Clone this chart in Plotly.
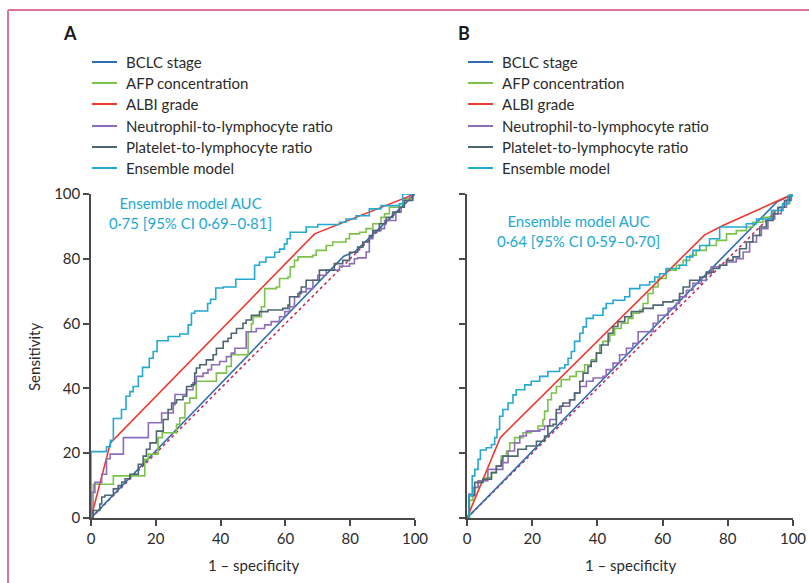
import plotly.graph_objects as go

W, H = 809, 583

NAMES = ["BCLC stage", "AFP concentration", "ALBI grade",
         "Neutrophil-to-lymphocyte ratio", "Platelet-to-lymphocyte ratio", "Ensemble model"]
COLORS = ["#2f6db3", "#7cc24a", "#ec3a2e", "#8d6cba", "#4e6672", "#23a9d2"]
DIAG_COLOR = "#c3245d"
AXIS_COLOR = "#4a4a4a"
TEXT_COLOR = "#2b2b2b"
FONT = "Lato"

TICKS = [0, 20, 40, 60, 80, 100]
X_TITLE = "1 – specificity"
Y_TITLE = "Sensitivity"
AUC_A = ["Ensemble model AUC", "0·75 [95% CI 0·69–0·81]"]
AUC_B = ["Ensemble model AUC", "0·64 [95% CI 0·59–0·70]"]

# ---------------- Panel A ----------------
A_bclc_x = [0, 78, 81.5, 100]
A_bclc_y = [0, 80.8, 82.2, 100]

A_albi_x = [0, 6, 69, 100]
A_albi_y = [0, 23.2, 87.7, 100]

A_afp_x = [0, 0.7, 6.9, 16.6, 17.7, 20.7, 22.0, 26.4, 27.4, 29.0, 30.5, 32.5, 38.7, 41.8, 43.3,
           48.5, 49.5, 50.0, 52.6, 53.6, 57.2, 58.2, 60.8, 61.5, 62.8, 63.9, 68.5, 69.5, 72.6,
           74.6, 78.7, 79.8, 82.9, 84.9, 87.0, 89.5, 90.6, 92.1, 95.2, 96.7, 99.3, 100]
A_afp_y = [0, 10.4, 13.0, 18.1, 19.7, 24.8, 26.3, 28.9, 30.9, 35.5, 37.0, 42.2, 44.7, 46.8, 50.4,
           57.5, 60.0, 62.1, 65.2, 70.8, 71.3, 73.9, 74.4, 77.5, 79.5, 80.6, 81.1, 82.6, 84.1,
           85.2, 86.2, 87.7, 88.2, 89.3, 90.8, 92.8, 93.9, 95.9, 96.9, 98.5, 100, 100]

A_nlr_x = [0, 0.2, 1.2, 3.3, 4.8, 5.9, 10.0, 17.7, 21.8, 25.4, 25.9, 29.5, 31.5, 32.5, 34.6, 36.1,
           37.2, 39.7, 41.8, 43.3, 44.4, 47.9, 51.0, 53.6, 55.6, 58.2, 59.8, 61.3, 62.8, 64.4,
           66.4, 68.5, 70.0, 72.6, 76.7, 79.8, 81.3, 82.3, 84.9, 85.9, 87.0, 89.5, 90.6, 94.1,
           95.7, 96.7, 98.3, 100]
A_nlr_y = [0, 7.9, 11.0, 13.5, 18.3, 19.7, 24.8, 29.4, 32.4, 35.0, 38.1, 39.6, 41.7, 43.7, 44.7,
           45.8, 47.3, 48.3, 49.8, 50.9, 52.4, 57.5, 58.5, 59.6, 60.6, 62.1, 63.7, 65.2, 68.3,
           69.8, 70.8, 73.4, 74.9, 76.5, 77.7, 78.5, 80.0, 80.3, 82.1, 86.2, 88.7, 89.3, 91.8,
           94.4, 95.9, 98.0, 100, 100]

A_plr_x = [0, 0.7, 2.7, 3.3, 4.3, 6.9, 8.4, 9.5, 10.5, 12.0, 14.6, 16.1, 17.1, 18.2, 20.2, 22.3,
           23.8, 24.9, 26.4, 28.4, 29.5, 31.0, 32.0, 32.5, 33.6, 35.6, 37.7, 38.7, 40.8, 42.3,
           43.3, 44.9, 46.9, 47.9, 49.5, 52.0, 54.6, 59.2, 60.8, 61.3, 63.9, 64.9, 66.4, 70.5,
           75.1, 77.7, 79.8, 82.3, 83.9, 85.9, 87.0, 89.0, 91.1, 93.1, 95.2, 96.7, 99.3, 100]
A_plr_y = [0, 2.3, 4.3, 6.5, 7.0, 9.0, 10.0, 11.1, 12.1, 13.5, 16.6, 19.1, 21.2, 23.2, 26.8, 30.4,
           33.5, 35.5, 36.5, 37.6, 40.6, 41.1, 44.7, 46.3, 47.3, 48.8, 50.4, 52.4, 54.5, 55.5,
           57.0, 58.5, 60.1, 61.1, 62.6, 63.7, 64.2, 64.7, 65.7, 68.3, 69.3, 71.3, 73.4, 76.5,
           78.5, 79.5, 82.0, 83.6, 85.2, 87.2, 88.7, 90.8, 92.8, 94.4, 95.9, 98.0, 100, 100]

A_ens_x = [0, 0, 4.8, 6.0, 6.9, 9.4, 10.8, 12.0, 13.0, 14.6, 15.9, 18.0, 19.2, 20.4, 23.8, 27.4,
           30.0, 31.0, 32.0, 36.0, 36.9, 38.5, 40.8, 44.7, 50.5, 52.0, 54.0, 56.7, 58.2, 59.7,
           60.5, 61.5, 66.4, 70.0, 76.7, 78.7, 81.8, 85.9, 89.5, 95.2, 96.2, 100]
A_ens_y = [0, 20.5, 22.0, 24.0, 30.7, 33.5, 37.6, 39.0, 40.6, 43.7, 46.5, 49.3, 51.4, 54.7, 56.0,
           56.8, 59.6, 63.2, 63.9, 66.2, 67.5, 71.0, 71.3, 73.7, 78.0, 79.0, 80.5, 82.0, 83.0,
           84.6, 86.2, 88.2, 89.8, 90.6, 91.3, 92.3, 93.3, 95.4, 96.4, 97.0, 100, 100]

# ---------------- Panel B ----------------
B_bclc_x = [0, 45, 95, 100]
B_bclc_y = [0, 46.3, 97.5, 100]

B_albi_x = [0, 10.2, 72.9, 78.5, 100]
B_albi_y = [0, 24.8, 87.4, 90.3, 100]

B_afp_x = [0, 0.8, 1.8, 3.4, 4.9, 5.9, 7.5, 9.0, 10.5, 12.1, 13.1, 14.6, 17.2, 19.7, 21.8, 23.3,
           23.8, 24.8, 25.9, 27.4, 28.9, 31.5, 33.5, 36.1, 38.1, 39.7, 40.7, 41.7, 43.8, 45.3,
           47.3, 49.4, 50.9, 53.0, 54.0, 55.5, 57.1, 58.6, 61.1, 64.2, 66.3, 68.3, 70.3, 73.4,
           76.5, 79.6, 82.6, 85.7, 87.7, 90.8, 93.9, 96.9, 99.0, 100]
B_afp_y = [0, 5.5, 9.4, 11.0, 11.5, 12.5, 14.0, 16.0, 19.1, 20.7, 23.2, 24.8, 26.3, 26.8, 28.4,
           30.4, 33.0, 36.5, 38.6, 40.6, 42.7, 43.7, 45.2, 47.3, 48.8, 50.9, 53.4, 54.5, 56.5,
           58.5, 60.1, 61.6, 63.2, 64.2, 66.2, 69.3, 71.3, 73.9, 76.5, 78.0, 79.5, 81.1, 82.6,
           84.1, 85.7, 87.7, 88.7, 89.8, 91.3, 92.8, 94.9, 97.0, 99.5, 100]

B_nlr_x = [0, 0.6, 1.8, 3.4, 6.4, 11.0, 12.6, 14.6, 16.2, 18.2, 22.3, 23.8, 25.4, 27.4, 28.9,
           31.5, 33.0, 34.6, 36.6, 38.7, 41.7, 42.7, 44.8, 46.8, 48.9, 50.9, 52.5, 57.1, 58.6,
           61.7, 64.2, 65.2, 67.3, 69.3, 71.9, 73.4, 74.9, 77.5, 79.6, 82.6, 84.7, 86.7, 88.8,
           90.3, 92.3, 94.4, 96.4, 98.0, 99.5, 100]
B_nlr_y = [0, 7.4, 9.4, 11.5, 15.0, 17.1, 20.7, 23.2, 25.3, 26.8, 27.3, 28.4, 30.4, 32.4, 34.5,
           36.5, 38.6, 40.6, 42.2, 43.2, 43.7, 45.8, 47.8, 50.4, 52.4, 53.9, 57.5, 60.1, 62.6,
           64.7, 66.2, 68.3, 70.3, 72.4, 73.4, 75.4, 77.5, 78.0, 79.0, 80.0, 82.1, 85.2, 87.2,
           89.3, 92.3, 93.9, 95.9, 98.0, 100, 100]

B_plr_x = [0, 0.6, 2.4, 4.9, 7.5, 9.0, 10.5, 11.0, 15.6, 18.2, 21.3, 23.8, 24.8, 26.4, 27.4,
           28.4, 29.4, 31.5, 33.0, 34.6, 35.6, 37.1, 38.1, 39.7, 41.2, 43.3, 44.8, 46.3, 48.4,
           50.4, 54.0, 57.1, 60.1, 63.2, 65.2, 66.3, 68.3, 71.4, 73.4, 75.5, 77.5, 79.6, 81.6,
           83.6, 85.7, 87.7, 89.8, 91.8, 93.9, 95.4, 97.4, 99.0, 100]
B_plr_y = [0, 6.9, 11.0, 12.0, 14.0, 16.0, 17.6, 19.1, 21.2, 22.2, 23.7, 25.3, 28.4, 28.9, 33.5,
           34.5, 35.5, 36.5, 38.6, 42.2, 44.7, 46.8, 48.3, 50.9, 53.4, 57.0, 59.1, 60.6, 62.1,
           63.7, 64.7, 65.7, 66.7, 67.2, 69.3, 71.3, 73.4, 74.4, 75.9, 77.0, 78.0, 79.5, 80.6,
           83.1, 85.2, 87.2, 89.8, 91.8, 93.9, 95.9, 98.0, 99.5, 100]

B_ens_x = [0, 0.6, 1.6, 2.4, 3.4, 4.1, 5.9, 7.5, 8.5, 9.2, 10.0, 11.0, 12.6, 14.1, 15.1, 17.7,
           19.7, 22.3, 24.8, 28.4, 30.0, 31.0, 32.0, 33.0, 34.6, 35.6, 36.6, 38.7, 41.7, 42.7,
           44.8, 48.4, 49.9, 53.0, 56.0, 57.6, 59.1, 61.1, 65.2, 67.3, 69.3, 71.4, 74.4, 77.5,
           85.7, 88.8, 93.4, 96.9, 98.5, 100]
B_ens_y = [0, 6.9, 13.0, 15.0, 18.1, 21.0, 21.7, 22.7, 24.8, 27.3, 31.4, 33.5, 35.5, 38.0, 39.6,
           41.1, 42.2, 43.7, 45.2, 46.3, 47.3, 49.3, 51.4, 54.5, 57.0, 59.0, 61.6, 62.6, 64.7,
           66.2, 67.2, 68.3, 70.8, 71.9, 72.9, 74.4, 75.4, 77.0, 78.0, 80.6, 82.6, 84.1, 86.2,
           89.8, 90.8, 92.3, 94.9, 97.0, 99.5, 100]

DIAG = [0, 100]

panels = {
    "A": dict(xa="x", ya="y", series=[
        (A_bclc_x, A_bclc_y, "linear"), (A_afp_x, A_afp_y, "hv"), (A_albi_x, A_albi_y, "linear"),
        (A_nlr_x, A_nlr_y, "hv"), (A_plr_x, A_plr_y, "hv"), (A_ens_x, A_ens_y, "hv")]),
    "B": dict(xa="x2", ya="y2", series=[
        (B_bclc_x, B_bclc_y, "linear"), (B_afp_x, B_afp_y, "hv"), (B_albi_x, B_albi_y, "linear"),
        (B_nlr_x, B_nlr_y, "hv"), (B_plr_x, B_plr_y, "hv"), (B_ens_x, B_ens_y, "hv")]),
}

fig = go.Figure()
for key, p in panels.items():
    fig.add_trace(go.Scatter(x=DIAG, y=DIAG, mode="lines", xaxis=p["xa"], yaxis=p["ya"],
                             line=dict(color=DIAG_COLOR, width=1.5, dash="3px,3px"),
                             showlegend=False, hoverinfo="skip"))
    for (xs, ys, shape), name, col in zip(p["series"], NAMES, COLORS):
        fig.add_trace(go.Scatter(x=xs, y=ys, mode="lines", name=name, xaxis=p["xa"], yaxis=p["ya"],
                                 line=dict(color=col, width=1.6, shape=shape), showlegend=False))


def px_x(v):
    return v / W


def px_y(v):
    return 1 - v / H


y_dom = [px_y(518), px_y(194)]
axis_common = dict(range=[0, 100], tickvals=TICKS, showgrid=False, zeroline=False,
                   showline=True, linecolor=AXIS_COLOR, linewidth=1.5, automargin=False,
                   ticks="outside", ticklen=6, tickwidth=1.5, tickcolor=AXIS_COLOR,
                   tickfont=dict(family=FONT, size=15, color=TEXT_COLOR), fixedrange=True)
title_font = dict(family=FONT, size=15, color=TEXT_COLOR)

fig.update_layout(
    width=W, height=H, margin=dict(l=0, r=0, t=0, b=0, autoexpand=False),
    paper_bgcolor="white", plot_bgcolor="white",
    xaxis=dict(domain=[px_x(91), px_x(415)], anchor="y", **axis_common),
    yaxis=dict(domain=y_dom, anchor="x", **axis_common),
    xaxis2=dict(domain=[px_x(467), px_x(793)], anchor="y2", **axis_common),
    yaxis2=dict(domain=y_dom, anchor="x2", **axis_common, showticklabels=False),
)

shapes = []
annotations = []
# frame
shapes.append(dict(type="line", xref="paper", yref="paper", x0=px_x(8), x1=px_x(8), y0=0, y1=px_y(10),
                   line=dict(color="#d8457a", width=1.5)))
shapes.append(dict(type="line", xref="paper", yref="paper", x0=px_x(8), x1=1, y0=px_y(10), y1=px_y(10),
                   line=dict(color="#e07494", width=2)))

# axis titles
for cx in (253, 630):
    annotations.append(dict(text=X_TITLE, xref="paper", yref="paper", x=px_x(cx), y=px_y(565),
                            showarrow=False, xanchor="center", yanchor="middle", font=title_font))
annotations.append(dict(text=Y_TITLE, xref="paper", yref="paper", x=px_x(34), y=px_y(357),
                        showarrow=False, xanchor="center", yanchor="middle", textangle=-90,
                        font=title_font))

legend_rows = [62, 83, 104, 126, 147, 168]
for letter, lx, line_x0, text_x in [("A", 70, 92, 124), ("B", 464, 468, 500)]:
    annotations.append(dict(text="<b>%s</b>" % letter, xref="paper", yref="paper",
                            x=px_x(lx), y=px_y(33), showarrow=False, xanchor="center", yanchor="middle",
                            font=dict(family=FONT, size=18, color="#1a1a1a")))
    for name, col, ry in zip(NAMES, COLORS, legend_rows):
        shapes.append(dict(type="line", xref="paper", yref="paper", x0=px_x(line_x0), x1=px_x(line_x0 + 25),
                           y0=px_y(ry), y1=px_y(ry), line=dict(color=col, width=2)))
        annotations.append(dict(text=name, xref="paper", yref="paper", x=px_x(text_x), y=px_y(ry),
                                showarrow=False, xanchor="left", yanchor="middle",
                                font=dict(family=FONT, size=15, color=TEXT_COLOR)))

for lines, cx, cy in [(AUC_A, 190, 213), (AUC_B, 578, 231)]:
    annotations.append(dict(text="<br>".join(lines), xref="paper", yref="paper",
                            x=px_x(cx), y=px_y(cy), showarrow=False, xanchor="center", yanchor="middle",
                            align="center", font=dict(family=FONT, size=15, color=COLORS[5])))

fig.update_layout(shapes=shapes, annotations=annotations)
fig.write_html("out.html")
